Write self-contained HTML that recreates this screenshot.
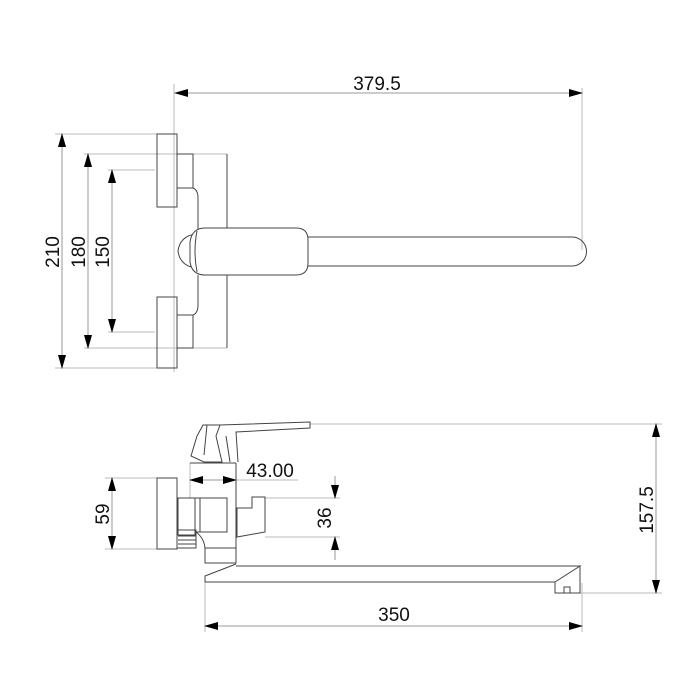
<!DOCTYPE html>
<html><head><meta charset="utf-8"><style>
html,body{margin:0;padding:0;background:#fff;}
svg{display:block;}
text{font-family:"Liberation Sans",sans-serif;font-size:19px;fill:#111;}
</style></head><body>
<svg width="700" height="700" viewBox="0 0 700 700" xmlns="http://www.w3.org/2000/svg">
<defs>
<marker id="a" markerWidth="14" markerHeight="8" refX="13" refY="4" orient="auto" markerUnits="userSpaceOnUse"><path d="M0,0 L14,4 L0,8 Z" fill="#000"/></marker>
<marker id="b" markerWidth="14" markerHeight="8" refX="1" refY="4" orient="auto" markerUnits="userSpaceOnUse"><path d="M14,0 L0,4 L14,8 Z" fill="#000"/></marker>
</defs>
<g stroke="#bbb" stroke-width="1" fill="none">
<line x1="174" y1="84" x2="174" y2="372"/>
<line x1="582" y1="88" x2="582" y2="250"/>
<line x1="55" y1="134" x2="157" y2="134"/>
<line x1="55" y1="368" x2="157" y2="368"/>
<line x1="84" y1="154" x2="227" y2="154"/>
<line x1="84" y1="348" x2="227" y2="348"/>
<line x1="108" y1="170" x2="155" y2="170"/>
<line x1="108" y1="332" x2="155" y2="332"/>
<line x1="310" y1="424" x2="662" y2="424"/>
<line x1="555" y1="593" x2="662" y2="593"/>
<line x1="105" y1="478" x2="157" y2="478"/>
<line x1="105" y1="549" x2="157" y2="549"/>
<line x1="190" y1="463" x2="190" y2="498"/>
<line x1="236" y1="463" x2="236" y2="482"/>
<line x1="236" y1="480" x2="298" y2="480"/>
<line x1="265" y1="498" x2="340" y2="498"/>
<line x1="265" y1="537" x2="340" y2="537"/>
<line x1="205" y1="582" x2="205" y2="632"/>
<line x1="582" y1="583" x2="582" y2="632"/>
</g>
<g stroke="#999" stroke-width="1" fill="none">
<line x1="175" y1="93" x2="582" y2="93" marker-start="url(#b)" marker-end="url(#a)"/>
<line x1="62" y1="134" x2="62" y2="368" marker-start="url(#b)" marker-end="url(#a)"/>
<line x1="88" y1="154" x2="88" y2="348" marker-start="url(#b)" marker-end="url(#a)"/>
<line x1="112" y1="170" x2="112" y2="332" marker-start="url(#b)" marker-end="url(#a)"/>
<line x1="656" y1="424" x2="656" y2="593" marker-start="url(#b)" marker-end="url(#a)"/>
<line x1="112" y1="478" x2="112" y2="549" marker-start="url(#b)" marker-end="url(#a)"/>
<line x1="190" y1="480" x2="236" y2="480" marker-start="url(#b)" marker-end="url(#a)"/>
<line x1="335" y1="476" x2="335" y2="498" marker-end="url(#a)"/>
<line x1="335" y1="560" x2="335" y2="537" marker-end="url(#a)"/>
<line x1="205" y1="626" x2="582" y2="626" marker-start="url(#b)" marker-end="url(#a)"/>
</g>
<g stroke="#444" stroke-width="1" fill="none">
<rect x="157" y="134" width="20" height="73"/>
<rect x="157" y="297" width="20" height="71"/>
<path d="M177,154 H193 V188 H177"/>
<path d="M177,315 H193 V348 H177"/>
<path d="M193,188 Q198,190 198,198 V230"/>
<path d="M193,315 Q198,313 198,305 V275"/>
<line x1="227" y1="154" x2="227" y2="228"/>
<line x1="227" y1="275" x2="227" y2="348"/>
<path d="M196,234 Q180,236 178,251 Q180,266 196,268"/>
<path d="M307,237 H572 A14.5,14.5 0 0 1 572,266 H307"/>
<path d="M205,228 H296 Q308,228 308,240 V263 Q308,275 296,275 H205 Q192,275 190,262 V242 Q192,228 205,228 Z" fill="#fff"/>
<path d="M197,231 Q193,251 197,272"/>
<rect x="157" y="478" width="20" height="71"/>
<rect x="178" y="498" width="17" height="37"/>
<rect x="195" y="498" width="32" height="34"/>
<line x1="200" y1="498" x2="200" y2="532"/>
<path d="M177,530 H196 V548 H177"/>
<line x1="178" y1="536" x2="196" y2="536"/><line x1="178" y1="540" x2="196" y2="540"/><line x1="178" y1="544" x2="196" y2="544"/>
<path d="M196,532 Q204,538 205,548"/>
<line x1="236" y1="463" x2="236" y2="548"/>
<line x1="190" y1="463" x2="236" y2="463"/>
<rect x="205" y="548" width="31" height="15"/>
<path d="M237,508 H252 V497 H265 V532 L237,537 Z"/>
<path d="M197,436 L203,425 H220 L216,436 L222,462 H204 L191,456 Z"/>
<path d="M207,425 L204,455"/>
<path d="M220,425 L310,422 V428 L236,432 L238,462"/>
<path d="M226,436 L230,462"/>
<path d="M236,564 L205,576 V582 H555 L580,566 H236"/>
<path d="M555,582 V593 H580 V566"/>
<rect x="564" y="587" width="6" height="6"/>
</g>
<text x="377" y="90" text-anchor="middle">379.5</text>
<text x="270" y="477" text-anchor="middle">43.00</text>
<text x="394" y="621" text-anchor="middle">350</text>
<text transform="translate(59,252) rotate(-90)" text-anchor="middle">210</text>
<text transform="translate(85,252) rotate(-90)" text-anchor="middle">180</text>
<text transform="translate(109,252) rotate(-90)" text-anchor="middle">150</text>
<text transform="translate(109,514) rotate(-90)" text-anchor="middle">59</text>
<text transform="translate(331,518) rotate(-90)" text-anchor="middle">36</text>
<text transform="translate(653,510) rotate(-90)" text-anchor="middle">157.5</text>
</svg>
</body></html>
